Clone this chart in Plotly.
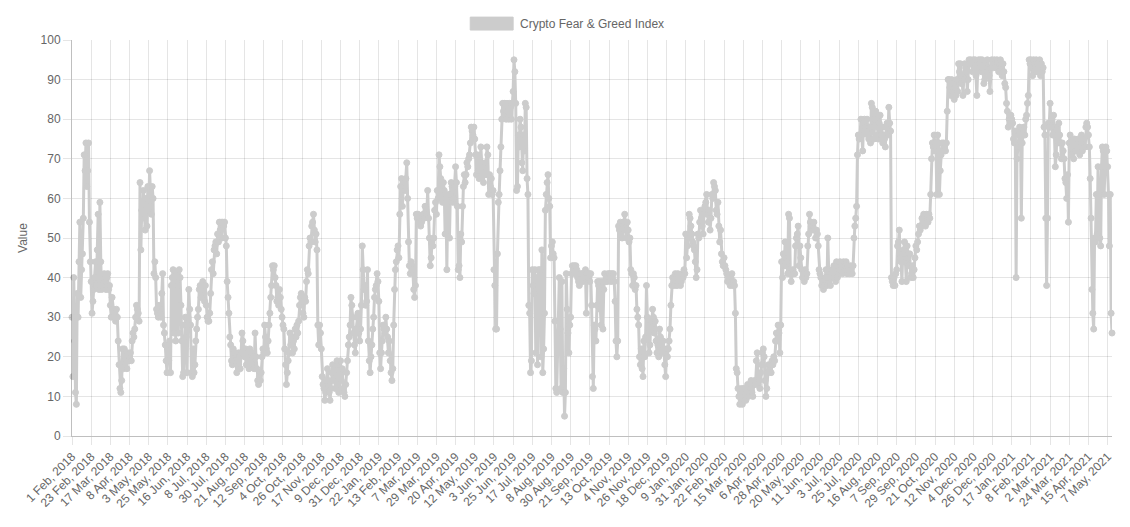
import pandas as pd
import plotly.graph_objects as go

# daily index values
start_date = '2018-02-01'
missing_dates = ['2018-04-14', '2018-04-15', '2018-04-16']

fg_2018 = [
    30, 15, 40, 24, 11, 8, 36, 30, 44, 54,
    35, 42, 46, 55, 71, 67, 74, 63, 67, 74,
    54, 44, 39, 31, 34, 37, 40, 44, 38, 47,
    56, 37, 59, 44, 37, 38, 40, 41, 39, 37,
    40, 41, 37, 38, 33, 30, 35, 32, 31, 30,
    29, 32, 30, 24, 18, 12, 11, 14, 22,
    17, 22, 20, 19, 17, 21, 19, 20, 21, 19,
    24, 26, 25, 27, 30, 33, 32, 31, 29, 64,
    47, 57, 55, 62, 56, 52, 60, 53, 63, 57,
    67, 58, 56, 63, 60, 41, 44, 40, 32, 31,
    30, 33, 31, 30, 36, 41, 28, 26, 23, 19,
    16, 23, 19, 24, 16, 38, 40, 42, 26, 39,
    24, 41, 38, 26, 42, 40, 33, 24, 15, 16,
    28, 30, 25, 16, 30, 37, 32, 28, 16, 15,
    22, 16, 18, 24, 27, 30, 32, 37, 38, 35,
    37, 39, 38, 34, 38, 33, 30, 29, 29, 31,
    36, 42, 44, 41, 47, 48, 49, 46, 51, 49,
    54, 52, 54, 50, 54, 53, 54, 50, 48,
    39, 35, 31, 25, 23, 19, 18, 22, 19, 21,
    19, 16, 19, 21, 20, 17, 21, 26, 24, 22,
    20, 22, 18, 21, 20, 17, 22, 19, 21, 18,
    20, 17, 26, 20, 17, 14, 13, 15, 14, 16,
    20, 22, 21, 28, 25, 22, 21, 24, 28, 31,
    35, 38, 43, 42, 43, 40, 38, 34, 35, 33,
    37, 35, 32, 30, 28, 27, 22, 18, 13, 16,
    19, 21, 26, 23, 25, 21, 24, 22, 27, 25,
    28, 26, 29, 33, 35, 36, 34, 31, 30, 35,
    34, 39, 42, 41, 48, 50, 49, 53, 54, 56,
    52, 49, 51, 47, 28, 23, 28, 26, 22, 15,
    13, 12, 9, 11, 14, 17, 14, 11, 9,
    12, 16, 18, 14, 17, 12, 18, 19, 13, 11,
    16, 19, 14, 17, 12, 11, 10, 13, 16, 19,
    23, 25, 28, 35, 33, 30, 26, 23, 21, 27,
    30, 31, 26, 24,
]

fg_2019 = [
    27, 33, 48, 42, 37, 38,
    33, 34, 42, 24, 19, 16, 20, 23, 27, 30,
    35, 37, 38, 41, 39, 34, 21, 17, 21, 24,
    28, 27, 26, 30, 27, 25, 21, 24, 19, 16,
    14, 17, 28, 37, 42, 44, 47, 48, 45, 56,
    63, 65, 58, 63, 64, 62, 65, 69, 60, 49,
    43, 41, 44, 43, 42, 37, 35, 38, 56, 55,
    56, 54, 55, 53, 54, 55, 56, 55, 58, 57,
    56, 62, 55, 50, 43, 45, 49, 48, 50,
    57, 59, 56, 62, 60, 71, 68, 65, 61, 59,
    64, 62, 51, 60, 42, 59, 61, 50, 61, 64,
    63, 59, 60, 63, 68, 64, 58, 42, 43, 40,
    51, 49, 58, 63, 66, 64, 66, 69, 68, 70,
    71, 74, 78, 77, 76, 78, 75, 71, 66, 71,
    67, 65, 67, 73, 69, 66, 64, 68, 69, 66,
    73, 71, 61, 66, 63, 65, 61, 62, 42, 38,
    27, 27, 46, 59, 61, 67, 73, 80, 84, 82,
    84, 81, 80, 84, 82, 80, 84, 83, 80, 84,
    87, 95, 92, 84, 62, 63, 76, 73, 80, 78,
    69, 67, 76, 72, 84, 83, 65, 61, 33, 31,
    16, 19, 42, 38, 36, 42, 21, 40, 18, 42,
    35, 42, 20, 47, 16, 22, 31, 57, 61, 64,
    66, 60, 58, 45, 48, 49, 46, 45, 29, 12,
    11, 21, 26, 40, 27, 12, 39, 11, 17, 5,
    11, 41, 32, 26, 21, 28, 30, 41, 43, 42,
    43, 41, 43, 42, 40, 39, 38, 41, 40,
    41, 39, 41, 40, 42, 31, 41, 40, 41, 39,
    41, 33, 15, 12, 28, 27, 24, 33, 39, 38,
    39, 32, 28, 39, 27, 37, 41, 39, 40, 39,
    41, 40, 41, 39, 41, 40, 41, 39, 34, 24,
    20, 24, 53, 52, 54, 51, 50, 53, 54, 56,
    52, 50, 54, 52, 49, 50, 42, 41, 38, 41,
    40, 37, 38, 32, 30, 28, 20, 18, 22,
    17, 15, 24, 20, 25, 38, 30, 26, 21, 23,
    29, 27, 32, 30, 26, 29, 24, 21, 23, 20,
    27, 25, 23, 21, 24, 22, 18, 15, 22, 20,
    22, 24, 27, 33, 38, 40, 39, 38, 41, 40,
    38, 41,
]

fg_2020 = [
    39, 40, 38, 39, 41, 40, 42, 41,
    51, 45, 48, 50, 56, 55, 53, 51, 49, 48,
    47, 44, 40, 42, 51, 50, 54, 57, 55, 53,
    51, 56, 58, 59, 61, 56, 54, 57, 52, 55,
    61, 60, 64, 63, 62, 57, 56, 59, 53, 49,
    52, 46, 44, 43, 45, 43, 42, 41, 39, 40,
    39, 38, 40, 41, 38, 39, 38, 31, 17,
    16, 12, 10, 8, 11, 12, 8, 10, 12, 10,
    9, 11, 13, 10, 11, 12, 14, 11, 10, 13,
    14, 13, 19, 21, 13, 14, 12, 16, 18, 21,
    22, 20, 14, 10, 12, 16, 18, 17, 18, 16,
    19, 18, 20, 19, 24, 26, 24, 28, 26, 21,
    28, 44, 40, 46, 43, 49, 43, 44, 41, 56,
    55, 41, 39, 41, 42, 41, 41, 48, 50, 51,
    53, 43, 48, 45, 42, 40, 41, 39, 42, 40,
    41, 48, 51, 56, 54, 53, 52, 53, 54, 52,
    50, 52, 51, 48, 42, 41, 40, 38, 39, 37,
    38, 40, 42, 38, 50, 42, 40, 38, 41, 42,
    40, 43, 41, 39, 44, 40, 43, 41, 44,
    42, 43, 41, 44, 42, 43, 44, 41, 43, 42,
    41, 43, 42, 41, 43, 50, 53, 55, 58, 71,
    76, 75, 76, 80, 76, 72, 79, 80, 78, 77,
    80, 76, 75, 78, 74, 84, 83, 78, 75, 80,
    82, 80, 76, 75, 79, 81, 76, 78, 74, 76,
    75, 73, 78, 79, 76, 83, 79, 77, 40, 39,
    38, 40, 38, 41, 42, 48, 49, 52, 45, 44,
    39, 46, 47, 49, 44, 39, 48, 45, 43, 46,
    40, 41, 43, 40, 42, 45, 48, 47, 49, 51,
    53, 52, 53, 55, 54, 56, 55, 53, 56, 55,
    54, 56, 55, 61, 70, 74, 73, 76, 72, 74,
    61, 76, 74, 61, 67, 71, 74, 72, 74,
    73, 72, 74, 82, 90, 90, 88, 86, 90, 87,
    89, 85, 88, 86, 90, 87, 94, 92, 94, 89,
    91, 86, 90, 94, 93, 92, 87, 90, 95, 94,
    95, 94, 92, 95, 93, 95, 91, 86, 93, 95,
    94, 95, 92, 95, 93, 89, 90, 94, 92, 95,
    93, 91, 87, 93, 95, 94, 93, 95, 94, 93,
    95,
]

fg_2021 = [
    94, 92, 94, 95, 93, 91, 94, 92, 89,
    88, 84, 82, 78, 80, 79, 81, 80, 79, 75,
    74, 77, 40, 70, 73, 76, 78, 76, 55, 74,
    77, 78, 76, 80, 81, 84, 86, 95, 94, 95,
    93, 91, 95, 94, 93, 95, 92, 94, 93, 95,
    91, 94, 92, 93, 78, 76, 55, 38, 55, 79,
    78, 84, 78, 80, 76, 81, 76, 68, 71, 78,
    74, 79, 76, 74, 70, 74, 72, 70, 65,
    64, 60, 66, 54, 74, 76, 73, 71, 74, 70,
    75, 73, 72, 74, 75, 73, 71, 74, 76, 72,
    74, 75, 73, 78, 79, 78, 76, 73, 65, 55,
    37, 31, 27, 50, 49, 61, 51, 68, 61, 50,
    48, 68, 73, 72, 61, 68, 73, 72, 68, 61,
    48, 61, 31, 26,
]

values = fg_2018 + fg_2019 + fg_2020 + fg_2021

dates = pd.date_range(start_date, periods=len(values) + len(missing_dates))
dates = dates[~dates.isin(pd.to_datetime(missing_dates))]
labels = [f"{d.day} {d.strftime('%b')}, {d.year}" for d in dates]
tick_step = 22
idx = list(range(len(values)))

line_grey = '#cccccc'
text_grey = '#666666'
grid = 'rgba(0,0,0,0.1)'
font_family = 'Liberation Sans, Arial, Helvetica, sans-serif'

trace = go.Scatter(
    x=idx,
    y=values,
    customdata=labels,
    mode='lines+markers',
    name='Crypto Fear & Greed Index',
    line=dict(color=line_grey, width=3),
    marker=dict(color=line_grey, size=6, line=dict(color=line_grey, width=1)),
    cliponaxis=False,
    hovertemplate='%{customdata}: %{y}<extra></extra>'
)

# plot area in page pixels (page has 8px body margin)
left, right, top, bottom = 64, 8, 32, 81
W, H = 1114, 511
pw = W - left - right
ph = H - top - bottom


def px(x):
    return (x - 8 - left) / pw


def py(y):
    return (H - bottom - (y - 8)) / ph


layout = go.Layout(
    width=W,
    height=H,
    autosize=False,
    margin=dict(l=left, r=right, t=top, b=bottom, pad=0),
    paper_bgcolor='white',
    plot_bgcolor='white',
    font=dict(family=font_family, size=12, color=text_grey),
    showlegend=False,
    xaxis=dict(
        range=[0, len(values) - 1],
        tickvals=idx[::tick_step],
        ticktext=labels[::tick_step],
        tickangle=-45,
        showgrid=True,
        gridcolor=grid,
        gridwidth=1,
        ticks='outside',
        ticklen=8,
        tickcolor=grid,
        showline=True,
        linecolor='rgba(0,0,0,0.25)',
        zeroline=False,
        tickfont=dict(size=12, color=text_grey),
    ),
    yaxis=dict(
        range=[0, 100],
        dtick=10,
        showgrid=True,
        gridcolor=grid,
        gridwidth=1,
        ticks='outside',
        ticklen=8,
        tickcolor=grid,
        showline=True,
        linecolor='rgba(0,0,0,0.25)',
        zeroline=False,
        title=dict(text='Value', standoff=10, font=dict(size=12, color=text_grey)),
        tickfont=dict(size=12, color=text_grey),
    ),
    shapes=[dict(
        type='rect', xref='paper', yref='paper',
        x0=px(471), x1=px(514), y0=py(30), y1=py(17),
        fillcolor=line_grey, line=dict(color=line_grey, width=1),
    )],
    annotations=[dict(
        text='Crypto Fear & Greed Index', xref='paper', yref='paper',
        x=px(519), y=py(23.5), xanchor='left', yanchor='middle',
        showarrow=False, font=dict(size=12, color=text_grey),
    )],
)

fig = go.Figure(data=[trace], layout=layout)
fig.write_html("out.html")
